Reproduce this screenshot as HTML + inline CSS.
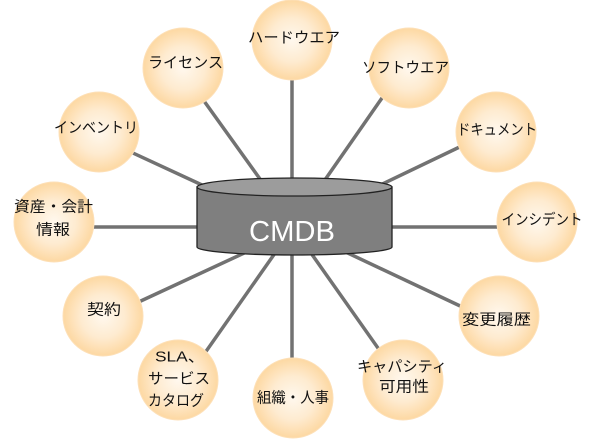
<!DOCTYPE html>
<html>
<head>
<meta charset="utf-8">
<style>
  html,body{margin:0;padding:0;background:#fff;}
  svg{display:block;}
  .lbl{font-family:"Liberation Sans","Noto Sans CJK JP",sans-serif;font-size:15px;fill:#111;}
</style>
</head>
<body>
<svg width="600" height="439" viewBox="0 0 600 439" xmlns="http://www.w3.org/2000/svg">
  <defs>
    <radialGradient id="g" cx="50%" cy="50%" r="50%">
      <stop offset="0%" stop-color="#fff8ee"/>
      <stop offset="55%" stop-color="#feebd0"/>
      <stop offset="100%" stop-color="#fdd8a2"/>
    </radialGradient>
  </defs>

  <!-- connectors -->
  <g stroke="#727272" stroke-width="3.5" stroke-linecap="butt">
    <line x1="292" y1="40" x2="292" y2="200"/>
    <line x1="194" y1="87" x2="265" y2="186"/>
    <line x1="120" y1="147" x2="215" y2="191"/>
    <line x1="390" y1="86.5" x2="320" y2="187"/>
    <line x1="470" y1="142" x2="370" y2="190"/>
    <line x1="80" y1="227" x2="210" y2="227"/>
    <line x1="380" y1="227" x2="510" y2="227"/>
    <line x1="130" y1="306" x2="255" y2="248"/>
    <line x1="200" y1="360" x2="280" y2="246"/>
    <line x1="292" y1="240" x2="292" y2="370"/>
    <line x1="475" y1="313" x2="335" y2="247"/>
    <line x1="385" y1="358" x2="306" y2="246"/>
  </g>

  <!-- CMDB cylinder -->
  <path d="M197,187 L197,247 A97.5,8 0 0 0 392,247 L392,187 Z" fill="#7f7f7f" stroke="#222" stroke-width="1.3"/>
  <ellipse cx="294.5" cy="187" rx="97.5" ry="9" fill="#9c9c9c" stroke="#222" stroke-width="1.3"/>
  <text x="292" y="241" text-anchor="middle" font-family="Liberation Sans, sans-serif" font-size="29" fill="#fff" textLength="86" lengthAdjust="spacingAndGlyphs">CMDB</text>

  <!-- circles -->
  <g fill="url(#g)" stroke="#fde0b8" stroke-width="1">
    <circle cx="292" cy="40" r="40"/>
    <circle cx="183" cy="68" r="40"/>
    <circle cx="409" cy="68" r="40"/>
    <circle cx="99" cy="132" r="40"/>
    <circle cx="496" cy="132" r="40"/>
    <circle cx="54" cy="222" r="40"/>
    <circle cx="537" cy="222" r="40"/>
    <circle cx="103" cy="316" r="40"/>
    <circle cx="499" cy="316" r="40"/>
    <circle cx="178" cy="380" r="40"/>
    <circle cx="403" cy="380" r="40"/>
    <circle cx="293" cy="398" r="40"/>
  </g>

  <!-- labels -->
  <g class="lbl" text-anchor="middle" dominant-baseline="central">
    <text x="294" y="38" textLength="92" lengthAdjust="spacingAndGlyphs">ハードウエア</text>
    <text x="185.5" y="63" textLength="75" lengthAdjust="spacingAndGlyphs">ライセンス</text>
    <text x="405.5" y="68" textLength="87" lengthAdjust="spacingAndGlyphs">ソフトウエア</text>
    <text x="96" y="128" textLength="84" lengthAdjust="spacingAndGlyphs">インベントリ</text>
    <text x="497" y="130" textLength="80" lengthAdjust="spacingAndGlyphs">ドキュメント</text>
    <text x="53.5" y="207" textLength="79" lengthAdjust="spacingAndGlyphs">資産・会計</text>
    <text x="53" y="230" textLength="34" lengthAdjust="spacingAndGlyphs">情報</text>
    <text x="542" y="220" textLength="81" lengthAdjust="spacingAndGlyphs">インシデント</text>
    <text x="104" y="310" textLength="34" lengthAdjust="spacingAndGlyphs">契約</text>
    <text x="496.5" y="320" textLength="69" lengthAdjust="spacingAndGlyphs">変更履歴</text>
    <text x="180" y="357" textLength="50" lengthAdjust="spacingAndGlyphs">SLA、</text>
    <text x="179" y="379" textLength="62" lengthAdjust="spacingAndGlyphs">サービス</text>
    <text x="176" y="401" textLength="56" lengthAdjust="spacingAndGlyphs">カタログ</text>
    <text x="402" y="367" textLength="90" lengthAdjust="spacingAndGlyphs">キャパシティ</text>
    <text x="404" y="387" textLength="50" lengthAdjust="spacingAndGlyphs">可用性</text>
    <text x="293" y="398" textLength="72" lengthAdjust="spacingAndGlyphs">組織・人事</text>
  </g>
</svg>
</body>
</html>
